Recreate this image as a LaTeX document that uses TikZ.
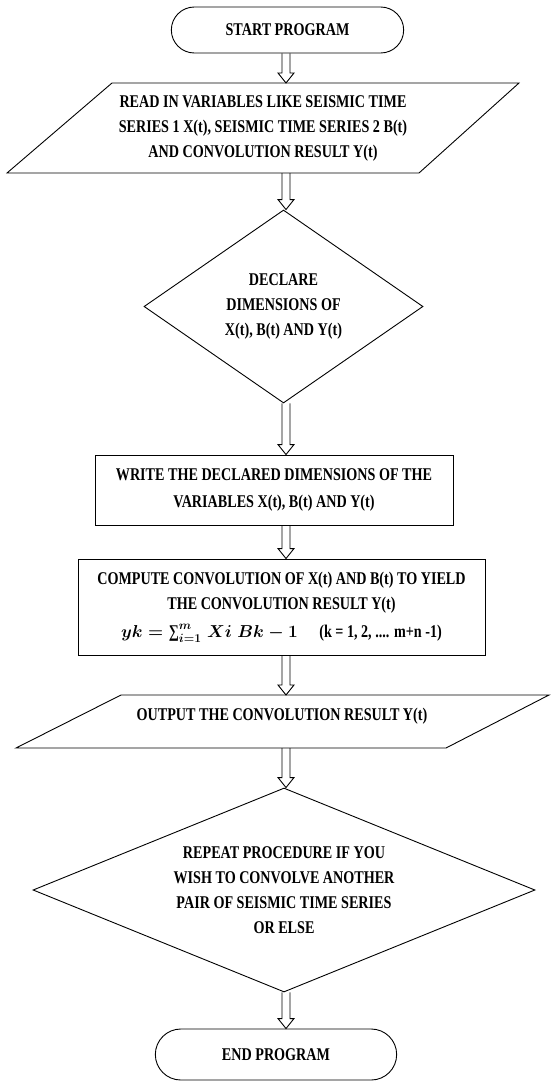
\documentclass[tikz,border=0pt]{standalone}
\usepackage{fontspec}
\setmainfont{Liberation Serif}[FakeStretch=0.79]
\usepackage{amsmath}
\usetikzlibrary{shapes.geometric}
\usetikzlibrary{shapes.misc}
\usetikzlibrary{calc}

\begin{document}
\begin{tikzpicture}[x=1pt,y=-1pt,line width=0.9pt,every node/.style={align=center,font=\fontsize{17.9}{25}\selectfont\bfseries},terminal/.style={rounded rectangle,draw},process/.style={rectangle,draw},decision/.style={diamond,draw,inner sep=0pt,aspect=#1},hollow/.style={to path={let \p1=(\tikztostart), \p2=(\tikztotarget) in (\x1-4pt,\y1) -- (\x1-4pt,\y2+10pt) -- (\x1-8pt,\y2+10pt) -- (\x1,\y2) -- (\x1+8pt,\y2+10pt) -- (\x1+4pt,\y2+10pt) -- (\x1+4pt,\y1)}}]
	
	\useasboundingbox (0,0) rectangle (553,1084);
	\coordinate (spine) at (286,0);
	
	\node[terminal, minimum width=239pt, minimum height=46pt] (start) at (287.5,30) {START PROGRAM};
	
	\node (read) at (263,128) {READ IN VARIABLES LIKE SEISMIC TIME\\SERIES 1 X(t), SEISMIC TIME SERIES 2 B(t)\\AND CONVOLUTION RESULT Y(t)};
	\draw (112,83) coordinate (readtop) -- (519,83) -- (419,173) -- (7,173) coordinate (readbot) -- cycle;
	
	\node[decision=1.45, minimum width=279pt, minimum height=193pt] (decl) at (283.5,306.5) {DECLARE\\DIMENSIONS OF\\X(t), B(t) AND Y(t)};
	
	\node[process, minimum width=358pt, minimum height=70pt] (write) at (274,490) {WRITE THE DECLARED DIMENSIONS OF THE\\[2pt]VARIABLES X(t), B(t) AND Y(t)};
	
	\node[process, minimum width=407pt, minimum height=96pt] (comp) at (281.5,607) {COMPUTE CONVOLUTION OF X(t) AND B(t) TO YIELD\\THE CONVOLUTION RESULT Y(t)\\[3pt]{\boldmath$yk = \text{∑}_{i=1}^{m}\; Xi\;Bk - 1$}\quad\ (k = 1, 2, .... m+n -1)};
	
	\node (out) at (282,716) {OUTPUT THE CONVOLUTION RESULT Y(t)};
	\draw (121,695) coordinate (outtop) -- (549,695) -- (446,748) -- (16,748) coordinate (outbot) -- cycle;
	
	\node[decision=2.46, minimum width=502pt, minimum height=204pt] (rep) at (284,890) {REPEAT PROCEDURE IF YOU\\WISH TO CONVOLVE ANOTHER\\PAIR OF SEISMIC TIME SERIES\\OR ELSE};
	
	\node[terminal, minimum width=248pt, minimum height=51pt] (stop) at (276,1054.5) {END PROGRAM};
	
	\draw[hollow] (start.south -| spine) to (readtop -| spine);
	\draw[hollow] (readbot -| spine) to (decl.north -| spine);
	\draw[hollow] (decl.south -| spine) to (write.north -| spine);
	\draw[hollow] (write.south -| spine) to (comp.north -| spine);
	\draw[hollow] (comp.south -| spine) to (outtop -| spine);
	\draw[hollow] (outbot -| spine) to (rep.north -| spine);
	\draw[hollow] (rep.south -| spine) to (stop.north -| spine);
	
\end{tikzpicture}
\end{document}
